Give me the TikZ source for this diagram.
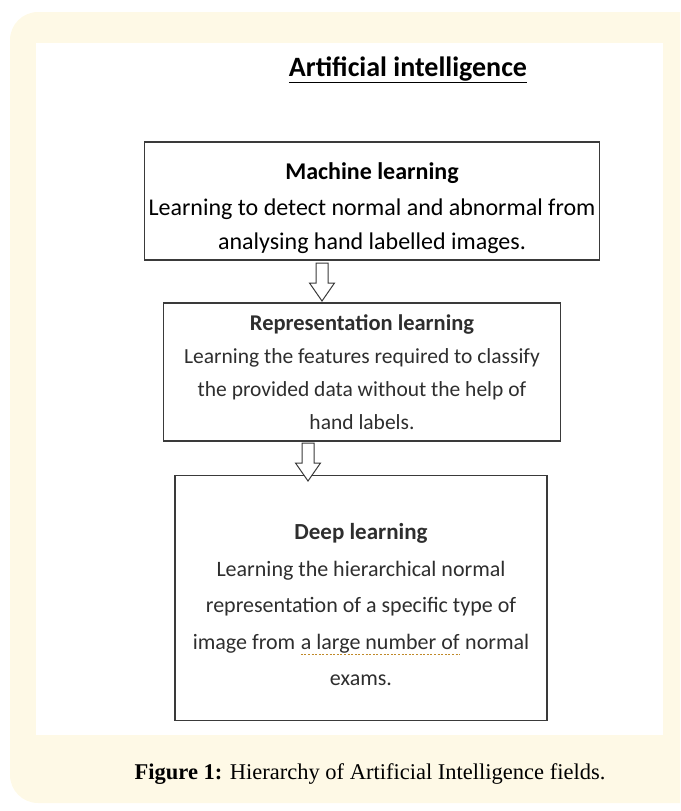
\documentclass[tikz,border=0pt]{standalone}
\usepackage{fontspec}
\setmainfont{Carlito}
\newfontfamily\capfont{Liberation Serif}
\definecolor{cream}{HTML}{FEF9E6}
\definecolor{boxline}{HTML}{3A3A3A}
\definecolor{softtext}{HTML}{2E2E2E}
\definecolor{gramm}{HTML}{C08A2A}
% dashed proofing underline under a phrase
\newcommand\proofline[1]{\tikz[baseline=(pw.base), x=1pt, y=1pt]{%
  \node[draw=none, fill=none, inner sep=0pt, outer sep=0pt,
        minimum width=0pt, minimum height=0pt] (pw) {#1};
  \draw[gramm, line width=1.3pt, dash pattern=on 2pt off 1.6pt]
    ([yshift=-5pt]pw.base west) -- ([yshift=-5pt]pw.base east);}}
% invisible strut that lowers a block of lines inside a fixed box
\newcommand\lowerby[1]{\rule{0pt}{#1}}
\tikzset{
  stagebox/.style={draw=boxline, line width=1.1pt, fill=white, align=center, inner sep=4pt},
  hollowarrow/.style={draw=boxline, line width=1pt, fill=white, line join=miter}
}
\begin{document}
\begin{tikzpicture}[x=1pt,y=-1pt]
\useasboundingbox (0,0) rectangle (680,811);
% framed panel
\begin{scope}
  \clip (0,0) rectangle (680,811);
  \fill[cream, rounded corners=28pt] (10,12) rectangle (720,803);
\end{scope}
\fill[white] (36,43) rectangle (663,735);

% heading
\node[font=\fontsize{28}{32}\selectfont\bfseries] (ai) at (408,70) {\underline{Artificial intelligence}};

% the three nested stages
\node[stagebox, minimum width=452pt, minimum height=118pt,
      font=\fontsize{24}{35}\selectfont] (ml) at (372,201)
  {\lowerby{31pt}{\bfseries\fontsize{24}{35}\selectfont Machine learning}\\[1pt]
   Learning to detect normal and abnormal from\\[-1pt]
   analysing hand labelled images.};

\node[stagebox, minimum width=397pt, minimum height=138pt,
      font=\fontsize{21.5}{33}\selectfont\color{softtext}] (rl) at (362,372)
  {{\bfseries\fontsize{22.5}{33}\selectfont Representation learning}\\
   Learning the features required to classify\\
   the provided data without the help of\\
   hand labels.};

\node[stagebox, minimum width=372pt, minimum height=245pt,
      font=\fontsize{22}{36.5}\selectfont\color{softtext}] (dl) at (361,598)
  {\lowerby{30pt}{\bfseries\fontsize{23}{36.5}\selectfont Deep learning}\\
   Learning the hierarchical normal\\
   representation of a specific type of\\
   image from \proofline{a large number of} normal\\
   exams.};

% hollow down arrows between the stages
\coordinate (a1) at (322,263);
\draw[hollowarrow] (a1) ++(-6,0) -- ++(0,20) -- ++(-6.5,0) -- ++(12.5,18)
  -- ++(12.5,-18) -- ++(-6.5,0) -- ++(0,-20) -- cycle;
\coordinate (a2) at (308,443);
\draw[hollowarrow] (a2) ++(-6,0) -- ++(0,20) -- ++(-6.5,0) -- ++(12.5,18)
  -- ++(12.5,-18) -- ++(-6.5,0) -- ++(0,-20) -- cycle;

% caption
\node[font=\capfont\fontsize{22.5}{26}\selectfont] (cap) at (370,774)
  {\textbf{Figure 1:} Hierarchy of Artificial Intelligence fields.};
\end{tikzpicture}
\end{document}
